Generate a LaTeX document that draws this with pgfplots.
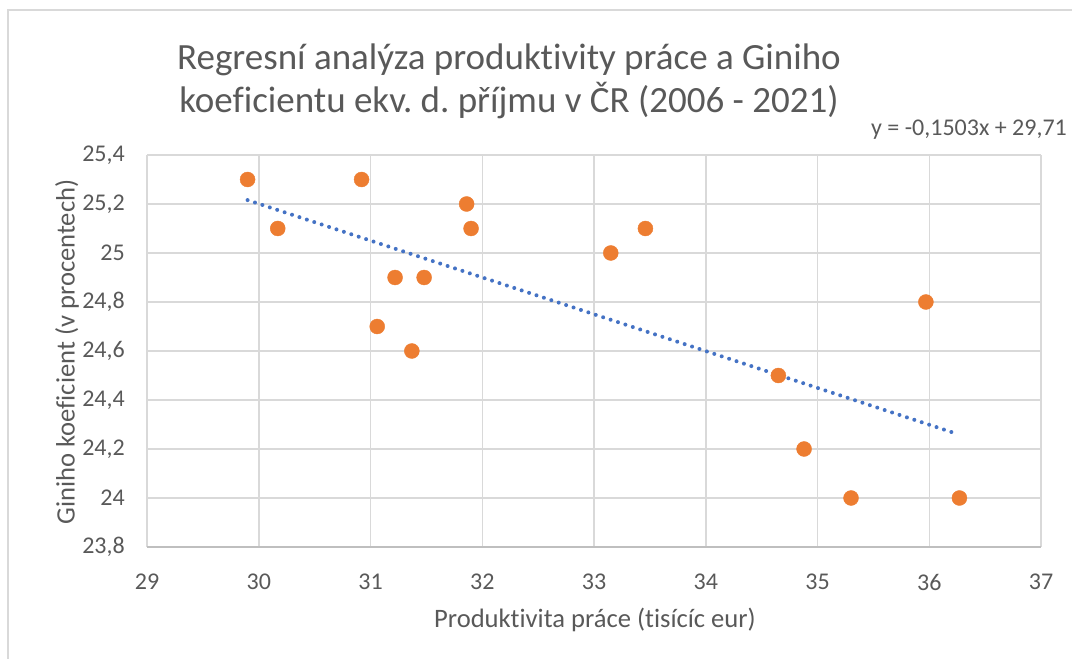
\documentclass[border=0pt]{standalone}
\usepackage{pgfplots}
\pgfplotsset{compat=1.18}
\usepackage{fontspec}
\setmainfont{Carlito}[Ligatures=NoCommon]
\frenchspacing
\definecolor{txt}{HTML}{595959}
\definecolor{gridc}{HTML}{D9D9D9}
\definecolor{axc}{HTML}{BFBFBF}
\definecolor{orng}{HTML}{ED7D31}
\definecolor{blu}{HTML}{4472C4}
\begin{document}
\begin{tikzpicture}[x=1pt,y=1pt]
\useasboundingbox (0,0) rectangle (1072,659);
\draw[gridc, line width=1.3pt] (8,649) rectangle (1100,-50);
\begin{axis}[at={(147pt,112pt)}, anchor=south west, width=894pt, height=392pt, scale only axis,
 xmin=29, xmax=37, ymin=23.8, ymax=25.4,
 xtick={29,30,31,32,33,34,35,36,37},
 ytick={23.8,24,24.2,24.4,24.6,24.8,25,25.2,25.4},
 grid=major, major grid style={gridc, line width=1.5pt},
 axis line style={draw=none}, major tick length=0pt,
 tick label style={font=\fontsize{24}{28}\selectfont, text=txt},
 /pgf/number format/.cd, use comma, 1000 sep={}, assume math mode=true, /pgfplots/.cd,
 xticklabel style={anchor=center, yshift=-35pt},
 yticklabel style={anchor=east, inner sep=0pt, xshift=-22pt},
 clip=false]
\draw[axc, line width=1.5pt] (rel axis cs:0,0) -- (rel axis cs:1,0);
\addplot[only marks, mark=*, mark size=7.5pt, mark options={fill=orng, draw=orng}] coordinates {
(29.90,25.3) (30.17,25.1) (30.92,25.3) (31.22,24.9) (31.06,24.7) (31.48,24.9)
(31.37,24.6) (31.86,25.2) (31.90,25.1) (33.15,25.0) (33.46,25.1) (34.65,24.5)
(34.88,24.2) (35.30,24.0) (35.97,24.8) (36.27,24.0)
};
\addplot[blu, line width=4pt, line cap=round, dash pattern=on 0pt off 7.8pt] coordinates {
(29.90,25.216) (36.22,24.266)
};
\end{axis}
\node[text=txt, font=\fontsize{37}{43}\selectfont, align=center] at (509,577.5) {Regresní analýza produktivity práce a Giniho\\koeficientu ekv. d. příjmu v ČR (2006 - 2021)};
\node[text=txt, font=\fontsize{24}{28}\selectfont] at (969,529.3) {y = -0,1503x + 29,71};
\node[text=txt, font=\fontsize{26.6}{30}\selectfont] at (595,39) {Produktivita práce (tisícíc eur)};
\node[text=txt, font=\fontsize{26.6}{30}\selectfont, rotate=90] at (67,307) {Giniho koeficient (v procentech)};
\end{tikzpicture}
\end{document}
